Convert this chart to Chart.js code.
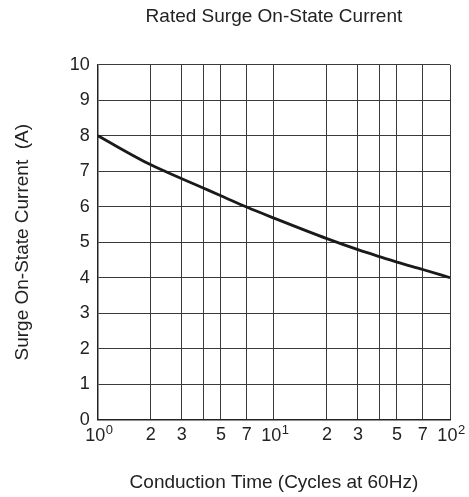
<!DOCTYPE html>
<html>
<head>
<meta charset="utf-8">
<script src="https://cdn.jsdelivr.net/npm/chart.js@4"></script>
<style>
  html, body { margin: 0; padding: 0; background: #fff; }
  #wrap { width: 469px; height: 497px; }
</style>
</head>
<body>
<div id="wrap"><canvas id="surge"></canvas></div>
<script>
"use strict";

// Rated surge on-state current vs conduction time

const cycles = [1, 2, 3, 4, 5, 7, 10, 20, 30, 40, 50, 70, 100];
const current = [8.0, 7.18, 6.79, 6.52, 6.31, 5.99, 5.68, 5.1, 4.79, 4.59, 4.44, 4.23, 4.0];

const xGrid = [1, 2, 3, 4, 5, 7, 10, 20, 30, 40, 50, 70, 100];
const xLabels = ["", "2", "3", "", "5", "7", "", "2", "3", "", "5", "7", ""];
// decade labels get drawn as 10 + raised exponent
const decades = [1, 10, 100];
const exponents = ["0", "1", "2"];

const FONT = "'Liberation Sans', Arial, sans-serif";

// draws 10^n under the decade grid lines
const decadeLabels = {
    id: "decadeLabels",
    afterDraw: function(chart) {
        let c = chart.ctx;
        let xs = chart.scales.x;
        let base = xs.top + 5;
        c.save();
        c.fillStyle = "#222";
        c.textBaseline = "top";
        c.textAlign = "left";
        decades.forEach((v, i) => {
            c.font = "18px " + FONT;
            let w1 = c.measureText("10").width;
            c.font = "13px " + FONT;
            let w2 = c.measureText(exponents[i]).width;
            let x0 = xs.getPixelForValue(v) - (w1 + w2) / 2 + 1;
            c.font = "18px " + FONT;
            c.fillText("10", x0, base + 2);
            c.font = "13px " + FONT;
            c.fillText(exponents[i], x0 + w1 + 0.5, base - 0.5);
        });
        c.restore();
    }
};

let ctx = document.getElementById("surge").getContext("2d");

let surgeChart = new Chart(ctx, {
    type: "line",
    data: {
        datasets: [{
            data: cycles.map((c, i) => ({ x: c, y: current[i] })),
            borderColor: "#1a1a1a",
            borderWidth: 2.8,
            pointRadius: 0,
            cubicInterpolationMode: "monotone",
            fill: false
        }]
    },
    options: {
        responsive: true,
        maintainAspectRatio: false,
        animation: false,
        layout: { padding: { top: 0, right: 19, bottom: 0, left: 8 } },
        plugins: {
            legend: { display: false },
            tooltip: { enabled: false },
            title: {
                display: true,
                fullSize: false,
                text: "Rated Surge On-State Current",
                color: "#222",
                font: { family: FONT, size: 19, weight: "normal" },
                padding: { top: 5, bottom: 37 }
            }
        },
        scales: {
            x: {
                type: "logarithmic",
                min: 1,
                max: 100,
                afterBuildTicks: function(scale) {
                    scale.ticks = xGrid.map(v => ({ value: v }));
                },
                ticks: {
                    autoSkip: false,
                    maxRotation: 0,
                    color: "#222",
                    padding: 5,
                    font: { family: FONT, size: 18 },
                    callback: function(value, index) {
                        return xLabels[index];
                    }
                },
                grid: { color: "#3a3a3a", lineWidth: 1, drawTicks: false },
                border: { color: "#222", width: 1.5 },
                title: {
                    display: true,
                    text: "Conduction Time (Cycles at 60Hz)",
                    color: "#222",
                    font: { family: FONT, size: 19 },
                    padding: { top: 20, bottom: 3 }
                }
            },
            y: {
                min: 0,
                max: 10,
                ticks: {
                    stepSize: 1,
                    color: "#222",
                    padding: 8,
                    font: { family: FONT, size: 18 }
                },
                grid: { color: "#3a3a3a", lineWidth: 1, drawTicks: false },
                border: { color: "#222", width: 1.5 },
                title: {
                    display: true,
                    text: "Surge On-State Current  (A)",
                    color: "#222",
                    font: { family: FONT, size: 19 },
                    padding: { top: 3, bottom: 28 }
                }
            }
        }
    },
    plugins: [decadeLabels]
});
</script>
</body>
</html>
